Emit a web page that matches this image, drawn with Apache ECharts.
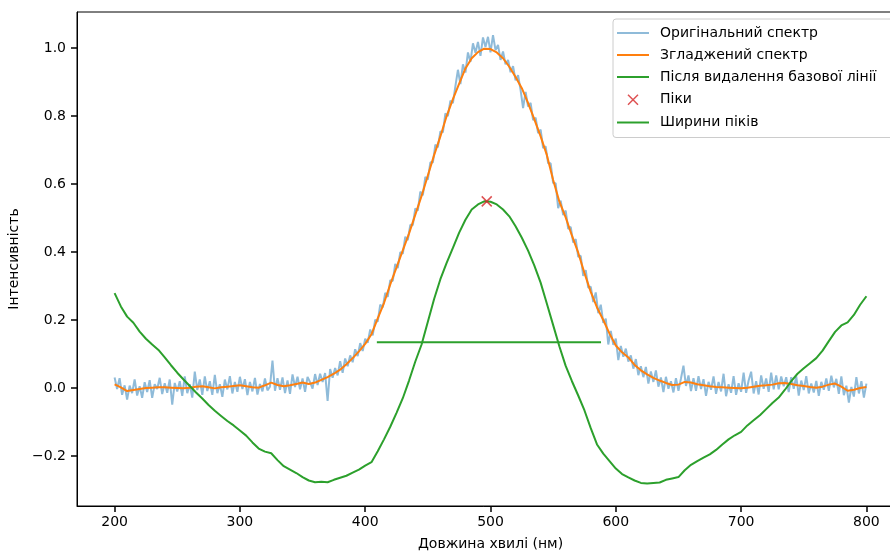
<!DOCTYPE html>
<html>
<head>
<meta charset="utf-8">
<script src="https://cdn.jsdelivr.net/npm/echarts@6/dist/echarts.min.js"></script>
<style>
  html, body { margin: 0; padding: 0; background: #fff; }
  #chart { width: 890px; height: 551px; }
</style>
</head>
<body>
<div id="chart"></div>
<script>
// noisy spectrum, 200..800 nm every 2 nm
const rawStart = 200, rawStep = 2;
const rawIntensity = [
  0.031, -0.003, 0.029, -0.020, 0.008, -0.034, 0.007, -0.015, 0.025, -0.022,
  0.005, -0.029, 0.017, -0.012, 0.023, -0.029, 0.011, -0.003, 0.030, -0.018,
  0.014, -0.014, 0.025, -0.049, 0.015, -0.010, 0.020, -0.023, 0.034, -0.015,
  0.011, -0.028, 0.048, -0.006, 0.025, -0.020, 0.034, -0.009, 0.020, -0.020,
  0.039, -0.015, 0.011, -0.026, 0.025, -0.004, 0.035, -0.016, 0.018, -0.011,
  0.033, -0.003, 0.026, -0.021, 0.018, -0.010, 0.030, -0.019, 0.012, -0.010,
  0.028, -0.007, 0.004, 0.081, -0.008, 0.029, -0.005, 0.031, -0.015, 0.022,
  -0.017, 0.040, 0.003, 0.033, -0.004, 0.028, -0.011, 0.033, 0.017, -0.002,
  0.041, 0.009, 0.042, 0.018, 0.044, -0.038, 0.056, 0.030, 0.059, 0.037,
  0.079, 0.045, 0.087, 0.064, 0.096, 0.076, 0.114, 0.094, 0.132, 0.109,
  0.145, 0.133, 0.172, 0.155, 0.201, 0.195, 0.245, 0.237, 0.280, 0.268,
  0.317, 0.315, 0.365, 0.353, 0.400, 0.395, 0.445, 0.435, 0.480, 0.479,
  0.528, 0.522, 0.578, 0.567, 0.621, 0.613, 0.664, 0.663, 0.716, 0.708,
  0.755, 0.752, 0.808, 0.800, 0.845, 0.838, 0.888, 0.936, 0.894, 0.952,
  0.928, 0.987, 0.959, 1.014, 0.986, 1.018, 0.977, 1.031, 1.003, 1.033,
  0.987, 1.038, 0.994, 1.009, 0.965, 0.990, 0.952, 0.965, 0.929, 0.947,
  0.905, 0.920, 0.877, 0.823, 0.871, 0.828, 0.839, 0.788, 0.795, 0.750,
  0.760, 0.706, 0.711, 0.661, 0.661, 0.603, 0.602, 0.529, 0.551, 0.509,
  0.522, 0.468, 0.474, 0.428, 0.438, 0.386, 0.389, 0.330, 0.347, 0.295,
  0.298, 0.253, 0.281, 0.220, 0.245, 0.192, 0.204, 0.128, 0.168, 0.127,
  0.145, 0.082, 0.124, 0.092, 0.116, 0.078, 0.096, 0.057, 0.085, 0.038,
  0.064, 0.032, 0.062, 0.013, 0.049, 0.018, 0.052, 0.004, 0.031, -0.012,
  0.033, -0.002, 0.020, -0.013, 0.029, -0.008, 0.028, 0.066, 0.006, 0.037,
  -0.009, 0.029, -0.008, 0.035, -0.003, 0.026, -0.023, 0.018, -0.005, 0.034,
  -0.017, 0.018, -0.010, 0.042, -0.024, 0.011, -0.014, 0.035, -0.020, 0.014,
  -0.011, 0.045, -0.014, 0.022, 0.048, -0.016, 0.020, -0.019, 0.037, -0.002,
  0.028, -0.011, 0.045, -0.004, 0.037, -0.004, 0.034, 0.005, 0.032, -0.012,
  0.032, -0.002, 0.034, -0.022, 0.022, -0.006, 0.035, -0.016, 0.013, -0.013,
  0.021, -0.023, 0.018, -0.005, 0.028, -0.008, 0.036, 0.002, 0.027, -0.017,
  0.034, -0.021, 0.007, -0.043, 0.003, -0.025, 0.032, -0.016, 0.020, -0.028,
  0.013
];

// smoothed spectrum and baseline-removed curve, every 5 nm
const curveStart = 200, curveStep = 5;
const smoothIntensity = [
  0.011, 0.002, -0.009, -0.006, -0.003, 0.000, 0.001, 0.002, 0.002, 0.001,
  0.000, -0.001, 0.001, 0.004, 0.005, 0.002, -0.001, 0.002, 0.004, 0.006,
  0.008, 0.005, 0.002, 0.001, 0.008, 0.016, 0.009, 0.005, 0.008, 0.012,
  0.016, 0.012, 0.016, 0.024, 0.032, 0.042, 0.054, 0.070, 0.088, 0.108,
  0.130, 0.158, 0.205, 0.250, 0.305, 0.355, 0.405, 0.455, 0.510, 0.565,
  0.625, 0.685, 0.740, 0.800, 0.850, 0.895, 0.940, 0.970, 0.988, 0.998,
  0.997, 0.987, 0.970, 0.945, 0.915, 0.882, 0.838, 0.790, 0.740, 0.685,
  0.612, 0.548, 0.502, 0.448, 0.398, 0.338, 0.283, 0.237, 0.200, 0.160,
  0.125, 0.105, 0.090, 0.068, 0.052, 0.040, 0.030, 0.022, 0.015, 0.009,
  0.010, 0.018, 0.016, 0.011, 0.008, 0.005, 0.003, 0.002, 0.001, 0.000,
  -0.001, 0.001, 0.004, 0.007, 0.008, 0.010, 0.014, 0.015, 0.012, 0.008,
  0.006, 0.003, 0.001, 0.004, 0.010, 0.013, 0.004, -0.008, -0.005, 0.000,
  0.003
];
const baselineRemoved = [
  0.279, 0.240, 0.210, 0.192, 0.166, 0.145, 0.128, 0.112, 0.090, 0.067,
  0.045, 0.025, 0.006, -0.013, -0.031, -0.050, -0.067, -0.082, -0.097, -0.110,
  -0.125, -0.140, -0.160, -0.178, -0.187, -0.192, -0.212, -0.230, -0.240, -0.250,
  -0.262, -0.272, -0.277, -0.276, -0.277, -0.270, -0.264, -0.258, -0.249, -0.240,
  -0.228, -0.218, -0.186, -0.151, -0.114, -0.073, -0.030, 0.022, 0.078, 0.128,
  0.195, 0.262, 0.320, 0.368, 0.412, 0.457, 0.495, 0.525, 0.540, 0.549,
  0.548, 0.540, 0.525, 0.505, 0.476, 0.442, 0.404, 0.360, 0.310, 0.248,
  0.185, 0.122, 0.065, 0.020, -0.022, -0.066, -0.118, -0.166, -0.193, -0.215,
  -0.237, -0.253, -0.263, -0.272, -0.279, -0.281, -0.279, -0.278, -0.270, -0.266,
  -0.262, -0.242, -0.226, -0.215, -0.205, -0.195, -0.182, -0.166, -0.151, -0.139,
  -0.129, -0.110, -0.095, -0.080, -0.062, -0.044, -0.028, -0.005, 0.020, 0.042,
  0.058, 0.073, 0.088, 0.110, 0.138, 0.165, 0.184, 0.193, 0.215, 0.245,
  0.270
];

const peakX = [497];
const peakY = [0.549];
const widthX = [409.3, 588.2];
const widthY = [0.135, 0.135];

const xTicks = [200, 300, 400, 500, 600, 700, 800];
const yTicks = [-0.2, 0.0, 0.2, 0.4, 0.6, 0.8, 1.0];

const names = [
  'Оригінальний спектр',
  'Згладжений спектр',
  'Після видалення базової лінії',
  'Піки',
  'Ширини піків'
];

const rawData = rawIntensity.map((v, i) => [rawStart + rawStep * i, v]);
const smoothData = smoothIntensity.map((v, i) => [curveStart + curveStep * i, v]);
const baseData = baselineRemoved.map((v, i) => [curveStart + curveStep * i, v]);
const peakData = peakX.map((x, i) => [x, peakY[i]]);
const widthData = widthX.map((x, i) => [x, widthY[i]]);

// x marker, corner moves keep some padding around the cross
const crossPath = 'path://M0,0M14,14M2,2L12,12M12,2L2,12';
const lineIcon = 'path://M0,0L32,0L32,2L0,2Z';
const font = 'DejaVu Sans';
const peakStyle = { color: '#d62728', borderColor: '#d62728', borderWidth: 1.5 };
const blue = 'rgba(31,119,180,0.5)', orange = '#ff7f0e', green = '#2ca02c';

const chart = echarts.init(document.getElementById('chart'), null, { renderer: 'canvas' });
chart.setOption({
  backgroundColor: '#ffffff',
  animation: false,
  grid: {
    left: 77, width: 827, top: 12, bottom: 45,
    outerBoundsMode: 'none',
    show: true, borderColor: '#000'
  },
  xAxis: {
    type: 'value', min: 170, max: 830,
    name: 'Довжина хвилі (нм)', nameLocation: 'middle', nameGap: 31,
    nameTextStyle: { fontFamily: font, fontSize: 14, color: '#000' },
    axisLine: { show: true, onZero: false, lineStyle: { color: '#000' } },
    axisTick: { show: true, inside: false, length: 6, customValues: xTicks, lineStyle: { color: '#000', width: 1.5 } },
    axisLabel: { customValues: xTicks, margin: 9, fontFamily: font, fontSize: 14, color: '#000' },
    splitLine: { show: false }
  },
  yAxis: {
    type: 'value', min: -0.347, max: 1.106,
    name: 'Інтенсивність', nameLocation: 'middle', nameGap: 48,
    nameTextStyle: { fontFamily: font, fontSize: 14, color: '#000' },
    axisLine: { show: true, onZero: false, lineStyle: { color: '#000' } },
    axisTick: { show: true, inside: false, length: 6, customValues: yTicks, lineStyle: { color: '#000', width: 1.5 } },
    axisLabel: {
      customValues: yTicks, margin: 11, fontFamily: font, fontSize: 14, color: '#000',
      formatter: v => v.toFixed(1).replace('-', '\u2212')
    },
    splitLine: { show: false }
  },
  legend: {
    orient: 'vertical', left: 613, top: 19,
    itemWidth: 32, itemHeight: 14, itemGap: 8,
    padding: [7, 30, 8, 4],
    backgroundColor: 'rgba(255,255,255,0.8)', borderColor: '#cccccc', borderWidth: 1, borderRadius: 3,
    textStyle: { fontFamily: font, fontSize: 14, color: '#000', padding: [0, 0, 0, 6] },
    data: [
      { name: names[0], icon: lineIcon, itemStyle: { color: blue } },
      { name: names[1], icon: lineIcon, itemStyle: { color: orange } },
      { name: names[2], icon: lineIcon, itemStyle: { color: green } },
      { name: names[3], icon: crossPath, itemStyle: peakStyle },
      { name: names[4], icon: lineIcon, itemStyle: { color: green } }
    ]
  },
  series: [
    {
      name: names[0], type: 'line', data: rawData, symbol: 'none',
      lineStyle: { color: blue, width: 2 }, itemStyle: { color: blue }
    },
    {
      name: names[1], type: 'line', data: smoothData, symbol: 'none',
      lineStyle: { color: orange, width: 2 }, itemStyle: { color: orange }
    },
    {
      name: names[2], type: 'line', data: baseData, symbol: 'none',
      lineStyle: { color: green, width: 2 }, itemStyle: { color: green }
    },
    {
      name: names[3], type: 'scatter', data: peakData, symbol: crossPath, symbolSize: 14,
      itemStyle: peakStyle, z: 5
    },
    {
      name: names[4], type: 'line', data: widthData, symbol: 'none',
      lineStyle: { color: green, width: 2 }, itemStyle: { color: green }
    }
  ]
});
</script>
</body>
</html>
